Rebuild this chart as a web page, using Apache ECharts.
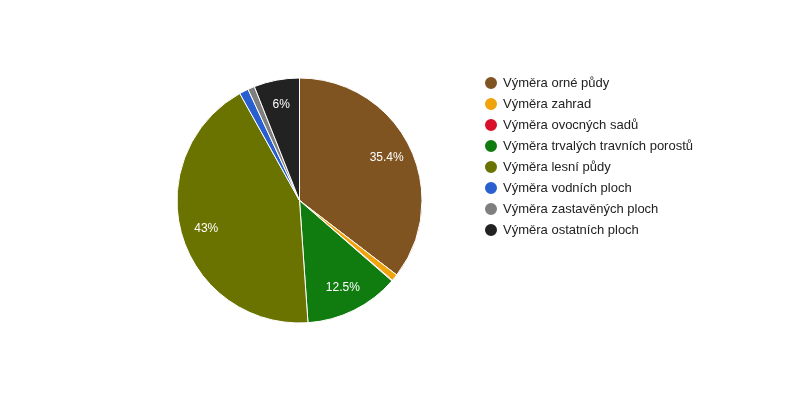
<!DOCTYPE html>
<html>
<head>
<meta charset="utf-8">
<script src="https://cdn.jsdelivr.net/npm/echarts@6/dist/echarts.min.js"></script>
<style>
html, body { margin: 0; padding: 0; background: #fff; }
#main { width: 800px; height: 400px; }
</style>
</head>
<body>
<div id="main"></div>
<script>
// data
var categories = ['Výměra orné půdy', 'Výměra zahrad', 'Výměra ovocných sadů', 'Výměra trvalých travních porostů',
	'Výměra lesní půdy', 'Výměra vodních ploch', 'Výměra zastavěných ploch', 'Výměra ostatních ploch'];
var values = [35.4, 0.9, 0.1, 12.5, 43, 1.2, 0.9, 6];
var colors = ['#7f5421', '#f0a30a', '#d9102a', '#107c10', '#6b7300', '#2a5fd0', '#7f7f7f', '#222222'];

var myChart = echarts.init(document.getElementById('main'));

var pieData = categories.map(function (name, i) {
	return { name: name, value: values[i] };
});

option = {
	color: colors,
	textStyle: { fontFamily: 'Arial, "Liberation Sans", sans-serif' },
	legend: {
		orient: 'vertical',
		left: 478,
		top: 70,
		icon: 'circle',
		itemWidth: 14,
		itemHeight: 14,
		itemGap: 5,
		textStyle: { fontSize: 13, color: '#222', lineHeight: 15 },
		data: categories
	},
	series: [
		{
			type: 'pie',
			center: [299.5, 200.5],
			radius: [0, 122.5],
			startAngle: 90,
			clockwise: true,
			avoidLabelOverlap: false,
			label: { show: false },
			labelLine: { show: false },
			itemStyle: { borderColor: '#fff', borderWidth: 1 },
			emphasis: { disabled: true },
			data: pieData
		},
		{
			// label ring only
			type: 'pie',
			center: [299.5, 200.5],
			radius: [66, 122.5],
			startAngle: 90,
			clockwise: true,
			silent: true,
			avoidLabelOverlap: false,
			itemStyle: { color: 'rgba(0,0,0,0)' },
			label: {
				show: true,
				position: 'inside',
				color: '#fff',
				fontSize: 12,
				fontFamily: 'Arial, "Liberation Sans", sans-serif',
				formatter: function (p) {
					return p.value < 5 ? '' : p.value + '%';
				}
			},
			labelLine: { show: false },
			emphasis: { disabled: true },
			data: pieData
		}
	]
};

myChart.setOption(option);
</script>
</body>
</html>
